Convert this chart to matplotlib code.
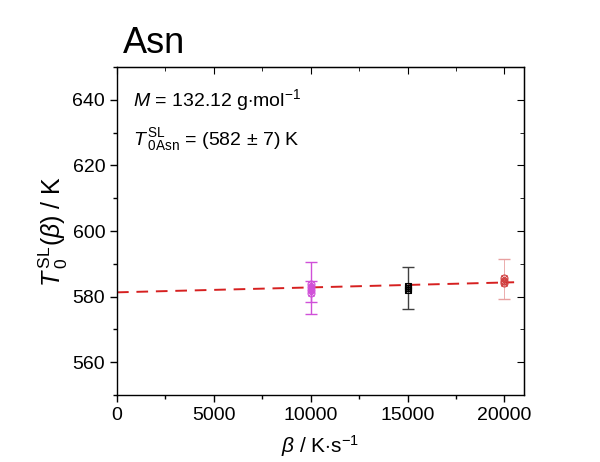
import matplotlib

matplotlib.use("Agg")
import matplotlib.pyplot as plt
import numpy as np
from matplotlib.ticker import MultipleLocator

plt.rcParams["font.family"] = ["Liberation Sans", "DejaVu Sans"]
plt.rcParams["mathtext.fontset"] = "custom"
plt.rcParams["mathtext.rm"] = "Liberation Sans"
plt.rcParams["mathtext.it"] = "Liberation Sans:italic"

# heating rates (K/s) and onset temperatures of single runs (K)
rate_10k = [10000, 10000, 10000, 10000]
temp_10k = [583.8, 582.9, 582.0, 581.0]
err_10k_x = [10000, 10000]
err_10k_y = [582.6, 581.5]
err_10k_e = [7.8, 3.2]

rate_15k = [15000, 15000, 15000]
temp_15k = [583.2, 582.6, 582.0]
err_15k_y = [582.5]
err_15k_e = [6.4]

rate_20k = [20000, 20000, 20000]
temp_20k = [585.6, 584.8, 584.0]
err_20k_y = [585.4]
err_20k_e = [6.0]

# linear fit T0(beta) = T0 + k*beta
fit_t0 = 581.3
fit_slope = 0.00015
fit_beta = np.array([0, 20500])

fig = plt.figure(figsize=(6, 4.62), dpi=100)
ax = fig.add_axes([0.195, 0.145, 0.678, 0.71])

ax.plot(fit_beta, fit_t0 + fit_slope * fit_beta, color="#d62020", ls=(0, (6, 4)), lw=1.4, zorder=2)

ax.errorbar(err_10k_x, err_10k_y, yerr=err_10k_e, fmt="none", ecolor="#d050d8", elinewidth=1.0, capsize=4, capthick=1.0)
ax.plot(rate_10k, temp_10k, ls="none", marker="o", mfc="none", mec="#d050d8", ms=5, mew=0.8)
ax.plot(rate_10k, temp_10k, ls="none", marker="x", color="#d050d8", ms=4, mew=0.8)

ax.errorbar([15000], err_15k_y, yerr=err_15k_e, fmt="none", ecolor="#404040", elinewidth=1.0, capsize=4, capthick=1.0)
ax.plot(rate_15k, temp_15k, ls="none", marker="s", mfc="none", mec="black", ms=5, mew=0.8)
ax.plot(rate_15k, temp_15k, ls="none", marker="x", color="black", ms=4, mew=0.8)

ax.errorbar([20000], err_20k_y, yerr=err_20k_e, fmt="none", ecolor="#e8a0a0", elinewidth=0.6, capsize=4, capthick=1.0)
ax.plot(rate_20k, temp_20k, ls="none", marker="o", mfc="none", mec="#d04040", ms=5, mew=0.8)
ax.plot(rate_20k, temp_20k, ls="none", marker="x", color="#d04040", ms=4, mew=0.8)

ax.set_xlim(0, 21000)
ax.set_ylim(550, 650)
ax.xaxis.set_major_locator(MultipleLocator(5000))
ax.xaxis.set_minor_locator(MultipleLocator(2500))
ax.yaxis.set_minor_locator(MultipleLocator(10))
ax.set_yticks([560, 580, 600, 620, 640])

ax.tick_params(axis="both", which="major", direction="out", length=5, width=1, labelsize=14)
ax.tick_params(axis="both", which="minor", direction="out", length=3, width=1)
for spine in ax.spines.values():
    spine.set_linewidth(1.0)

# inward ticks on the top and right frame
secx = ax.secondary_xaxis("top")
secx.xaxis.set_major_locator(MultipleLocator(5000))
secx.xaxis.set_minor_locator(MultipleLocator(2500))
secx.tick_params(which="major", direction="in", length=5, labeltop=False)
secx.tick_params(which="minor", direction="in", length=3)
secy = ax.secondary_yaxis("right")
secy.yaxis.set_major_locator(MultipleLocator(20))
secy.yaxis.set_minor_locator(MultipleLocator(10))
secy.tick_params(which="major", direction="in", length=5, labelright=False)
secy.tick_params(which="minor", direction="in", length=3)

ax.set_xlabel(r"$\it{\beta}$ / K$\cdot$s$^{-1}$", fontsize=15, labelpad=7)
ax.set_ylabel(r"$\it{T}\,_0^{\rm SL}(\it{\beta})$ / K", fontsize=18, labelpad=2)

fig.text(0.205, 0.885, "Asn", fontsize=26)
ax.text(0.04, 0.9, r"$\it{M}$ = 132.12 g$\cdot$mol$^{-1}$", transform=ax.transAxes, fontsize=14, va="center")
ax.text(0.04, 0.78, r"$\it{T}\,_{\rm 0Asn}^{\rm SL}$ = (582 $\pm$ 7) K", transform=ax.transAxes, fontsize=14, va="center")

fig.savefig("out.png")
